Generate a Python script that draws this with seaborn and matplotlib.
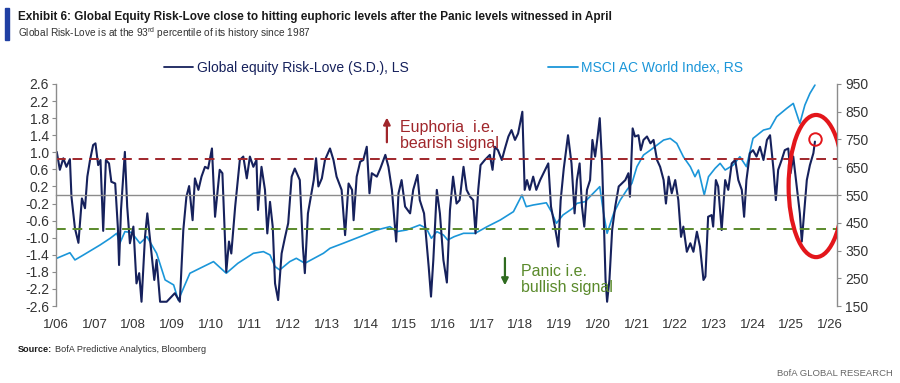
import matplotlib
matplotlib.use("Agg")
from matplotlib import pyplot as plt
from matplotlib.lines import Line2D
from matplotlib.patches import Ellipse, Rectangle

import numpy as np
import pandas as pd
import seaborn as sns

# Global equity Risk-Love (S.D.), left scale (decimal years)
rl_years = [
    2006.02, 2006.10, 2006.19, 2006.27, 2006.36, 2006.40, 2006.49, 2006.58, 2006.67, 2006.75,
    2006.81, 2006.88, 2006.96, 2007.02, 2007.09, 2007.15, 2007.22, 2007.29, 2007.37, 2007.43,
    2007.53, 2007.60, 2007.63, 2007.68, 2007.78, 2007.84, 2007.91, 2008.00, 2008.08, 2008.15,
    2008.21, 2008.30, 2008.36, 2008.45, 2008.54, 2008.60, 2008.69, 2008.86, 2009.07, 2009.20,
    2009.29, 2009.37, 2009.44, 2009.53, 2009.59, 2009.68, 2009.76, 2009.85, 2009.93, 2010.03,
    2010.11, 2010.23, 2010.30, 2010.40, 2010.47, 2010.53, 2010.63, 2010.75, 2010.84, 2010.93,
    2011.01, 2011.10, 2011.18, 2011.22, 2011.31, 2011.40, 2011.46, 2011.53, 2011.60, 2011.66,
    2011.74, 2011.83, 2011.92, 2012.00, 2012.09, 2012.17, 2012.30, 2012.38, 2012.43, 2012.51,
    2012.66, 2012.72, 2012.78, 2012.87, 2012.95, 2013.08, 2013.17, 2013.25, 2013.38, 2013.47,
    2013.56, 2013.65, 2013.69, 2013.77, 2013.86, 2013.94, 2014.03, 2014.10, 2014.16, 2014.29,
    2014.38, 2014.51, 2014.59, 2014.68, 2014.79, 2014.85, 2014.93, 2015.02, 2015.15, 2015.23,
    2015.34, 2015.40, 2015.51, 2015.63, 2015.69, 2015.75, 2015.84, 2015.92, 2016.01, 2016.10,
    2016.18, 2016.26, 2016.35, 2016.43, 2016.53, 2016.61, 2016.70, 2016.78, 2016.84, 2016.91,
    2016.97, 2017.08, 2017.21, 2017.28, 2017.34, 2017.42, 2017.52, 2017.60, 2017.69, 2017.77,
    2017.86, 2017.94, 2018.05, 2018.11, 2018.17, 2018.24, 2018.33, 2018.41, 2018.51, 2018.64,
    2018.72, 2018.79, 2018.89, 2018.98, 2019.04, 2019.12, 2019.23, 2019.32, 2019.40, 2019.46,
    2019.53, 2019.59, 2019.65, 2019.72, 2019.80, 2019.86, 2019.93, 2019.99, 2020.05, 2020.11,
    2020.15, 2020.20, 2020.24, 2020.30, 2020.37, 2020.45, 2020.54, 2020.62, 2020.71, 2020.79,
    2020.83, 2020.90, 2020.96, 2021.05, 2021.11, 2021.18, 2021.27, 2021.36, 2021.44, 2021.53,
    2021.61, 2021.70, 2021.76, 2021.83, 2021.91, 2022.00, 2022.08, 2022.15, 2022.21, 2022.30,
    2022.39, 2022.47, 2022.56, 2022.64, 2022.73, 2022.78, 2022.85, 2022.94, 2022.98, 2023.05,
    2023.11, 2023.20, 2023.29, 2023.37, 2023.46, 2023.55, 2023.63, 2023.72, 2023.78, 2023.84,
    2023.93, 2024.01, 2024.10, 2024.19, 2024.28, 2024.37, 2024.45, 2024.54, 2024.60, 2024.66,
    2024.75, 2024.83, 2024.92, 2024.98, 2025.05, 2025.14, 2025.22, 2025.27, 2025.33, 2025.40,
    2025.48, 2025.57, 2025.61,
]
rl_values = [
    1.01, 0.59, 0.86, 0.66, 0.84, -0.04, -0.78, -1.12, -0.08, -0.31,
    0.43, 0.82, 1.17, 1.21, 0.70, 0.82, -0.84, 0.82, 0.74, 0.31,
    0.27, -0.78, -1.64, -0.35, 1.01, -0.27, -1.13, -0.74, -2.07, -1.83,
    -2.50, -0.98, -0.43, -1.21, -1.99, -1.52, -2.50, -2.50, -2.30, -2.50,
    -0.82, -0.04, 0.21, -0.59, 0.39, 0.12, 0.43, 0.66, 0.62, 1.09,
    -0.51, 0.59, 0.51, -1.80, -1.09, -1.37, -0.27, 0.82, 0.90, 0.39,
    0.90, 0.66, 0.82, -0.35, 0.66, 0.12, -0.90, -0.16, -0.74, -2.07,
    -2.46, -1.37, -0.98, -0.66, 0.43, 0.62, 0.35, -1.21, -1.83, -0.43,
    0.35, 0.86, 0.20, 0.39, 0.82, 1.09, 0.82, 0.43, 0.12, -0.94,
    0.27, 0.12, -0.59, 0.43, 0.78, 0.82, 1.13, 0.04, 0.51, 0.43,
    0.62, 0.94, 0.66, 0.12, -1.09, 0.04, 0.35, -0.27, -0.43, 0.12,
    0.47, -0.12, -0.43, -1.68, -2.38, -1.52, 0.12, -0.43, -1.52, -2.05,
    -0.35, 0.43, -0.20, -0.12, 0.66, 0.12, -0.04, -0.12, -0.90, 0.12,
    0.70, 0.82, 0.94, 0.59, 1.13, 1.05, 0.82, 1.09, 1.37, 1.52,
    1.29, 1.44, 1.95, 0.12, 0.35, 0.12, 0.43, 0.12, 0.35, 0.59,
    0.74, -0.27, -0.74, -1.21, -0.12, 0.62, 1.40, 0.74, -0.43, 0.35,
    0.74, -0.27, -0.74, 0.12, 0.35, 1.29, 0.90, 1.33, 1.80, 0.74,
    -0.43, -1.99, -2.50, -1.99, -0.82, -0.27, 0.20, 0.27, 0.35, 0.51,
    -0.04, 1.56, 1.37, 1.40, 1.05, 1.29, 1.37, 1.21, 1.29, 0.82,
    0.66, 0.35, -0.20, 0.43, 0.04, 0.35, -0.12, -0.98, -0.74, -1.33,
    -1.13, -1.33, -0.86, -1.21, -1.99, -1.91, -0.51, -0.47, -0.74, 0.35,
    0.20, -0.82, 0.35, 0.12, 0.74, 0.82, 0.35, 0.12, -0.51, 0.35,
    0.98, 1.05, 0.90, 1.13, 0.82, 1.29, 1.40, 0.59, -0.12, 0.59,
    0.82, 1.05, 1.09, 0.51, 0.90, 0.20, -0.43, -1.09, -0.43, 0.35,
    0.70, 0.98, 1.25,
]

# MSCI AC World Index, right scale
msci_years = [
    2006.02, 2006.36, 2006.49, 2006.71, 2007.14, 2007.40, 2007.57, 2007.65, 2007.78, 2007.95,
    2008.17, 2008.35, 2008.60, 2008.82, 2009.04, 2009.16, 2009.46, 2009.72, 2010.07, 2010.40,
    2010.70, 2011.10, 2011.36, 2011.53, 2011.66, 2011.78, 2012.04, 2012.21, 2012.43, 2012.91,
    2013.08, 2013.42, 2013.86, 2014.29, 2014.63, 2014.80, 2015.06, 2015.40, 2015.57, 2015.70,
    2015.84, 2016.01, 2016.12, 2016.29, 2016.53, 2016.83, 2017.14, 2017.48, 2017.82, 2018.04,
    2018.15, 2018.33, 2018.67, 2018.80, 2018.93, 2019.10, 2019.35, 2019.46, 2019.67, 2019.88,
    2020.05, 2020.15, 2020.24, 2020.41, 2020.58, 2020.75, 2020.88, 2021.01, 2021.18, 2021.36,
    2021.53, 2021.70, 2021.87, 2022.04, 2022.21, 2022.39, 2022.51, 2022.60, 2022.75, 2022.86,
    2023.03, 2023.16, 2023.29, 2023.50, 2023.67, 2023.84, 2024.01, 2024.28, 2024.45, 2024.62,
    2024.88, 2025.05, 2025.22, 2025.35, 2025.48, 2025.61,
]
msci_values = [
    322, 342, 316, 334, 370, 394, 412, 376, 418, 415,
    376, 400, 340, 244, 226, 171, 268, 286, 310, 268,
    304, 340, 346, 334, 292, 280, 310, 322, 304, 340,
    358, 376, 400, 424, 436, 418, 424, 442, 430, 394,
    418, 406, 388, 400, 412, 412, 436, 460, 490, 550,
    508, 514, 522, 490, 448, 478, 502, 520, 526, 556,
    580, 484, 412, 484, 532, 568, 592, 652, 694, 712,
    730, 748, 754, 736, 688, 652, 616, 640, 550, 616,
    646, 664, 640, 658, 688, 652, 754, 784, 790, 832,
    862, 880, 808, 874, 916, 946,
]

year_ticks = list(range(2006, 2027))
year_labels = ['1/%02d' % (y % 100) for y in year_ticks]
left_ticks = np.round(np.arange(-2.6, 2.61, 0.4), 1)
right_ticks = list(range(150, 951, 100))
euphoria_level = 0.84
panic_level = -0.8

navy = '#16215c'
light_blue = '#1b96d9'
dark_red = '#a0262b'
green = '#5a8a2b'
grey = '#8c8c8c'

sns.set_style('white')
plt.rcParams['font.family'] = ['Liberation Sans', 'DejaVu Sans']

rl_df = pd.DataFrame({'year': rl_years, 'risk_love': rl_values})
msci_df = pd.DataFrame({'year': msci_years, 'msci': msci_values})

fig = plt.figure(figsize=(9, 3.83), dpi=100)
ax = fig.add_axes([0.0622, 0.201, 0.8678, 0.5797])
ax2 = ax.twinx()

sns.lineplot(data=msci_df, x='year', y='msci', ax=ax2, color=light_blue,
             linewidth=1.2, estimator=None, sort=False)
sns.lineplot(data=rl_df, x='year', y='risk_love', ax=ax, color=navy,
             linewidth=1.5, estimator=None, sort=False)

# risk-love line above the index line
ax.set_zorder(ax2.get_zorder() + 1)
ax.patch.set_visible(False)

ax.axhline(euphoria_level, color=dark_red, linestyle=(0, (5, 3.5)), linewidth=1.4)
ax.axhline(panic_level, color=green, linestyle=(0, (5, 3.5)), linewidth=1.4)

ax.set_xlim(2006.0, 2026.18)
ax.set_ylim(-2.6, 2.6)
ax2.set_ylim(150, 950)
ax.set_yticks(left_ticks)
ax.set_yticklabels(['%.1f' % v for v in left_ticks])
ax2.set_yticks(right_ticks)
ax.set_xticks(year_ticks)
ax.set_xticklabels(year_labels)
ax.set_xlabel('')
ax.set_ylabel('')
ax2.set_ylabel('')
ax.grid(False)
ax2.grid(False)

# x axis sits on the zero line, labels at the bottom
ax.spines['bottom'].set_position(('data', 0))
for a in (ax, ax2):
    a.spines['top'].set_visible(False)
    for s in a.spines.values():
        s.set_color(grey)
        s.set_linewidth(1.0)
ax.spines['right'].set_visible(False)
ax2.spines['left'].set_visible(False)
ax2.spines['bottom'].set_visible(False)
ax.tick_params(axis='x', direction='out', length=3, color=grey, pad=86,
               labelsize=9.5, labelcolor='#333333')
ax.tick_params(axis='y', direction='out', length=3, color=grey, pad=2,
               labelsize=10, labelcolor='#333333')
ax2.tick_params(axis='y', direction='out', length=3, color=grey, pad=3,
                labelsize=10, labelcolor='#333333')

# annotations
ax.annotate('', xy=(2014.55, 1.88), xytext=(2014.55, 1.17),
            arrowprops=dict(arrowstyle='-|>', color=dark_red, lw=1.6,
                            mutation_scale=10))
ax.text(2014.88, 1.40, 'Euphoria  i.e.\nbearish signal', color=dark_red,
        fontsize=11.5, va='center', ha='left', linespacing=1.05)
ax.annotate('', xy=(2017.60, -2.18), xytext=(2017.60, -1.41),
            arrowprops=dict(arrowstyle='-|>', color='#2f6b1f', lw=1.6,
                            mutation_scale=10))
ax.text(2018.02, -1.98, 'Panic i.e.\nbullish signal', color=green,
        fontsize=11.5, va='center', ha='left', linespacing=1.05)

ax.add_patch(Ellipse((2025.64, 0.21), 1.42, 3.33, fill=False,
                     edgecolor='#e3161b', linewidth=3, zorder=5))
ax.plot(rl_years[-1], rl_values[-1] + 0.07, marker='o', markersize=9,
        markerfacecolor='none', markeredgecolor='#e3161b',
        markeredgewidth=1.4, zorder=6)

# legends
fig.legend(handles=[Line2D([], [], color=navy, linewidth=1.3)],
           labels=['Global equity Risk-Love (S.D.), LS'],
           loc='center left', bbox_to_anchor=(0.174, 1 - 68 / 383),
           frameon=False, fontsize=10, handlelength=2.15,
           handletextpad=0.25, labelcolor=navy, borderpad=0)
fig.legend(handles=[Line2D([], [], color=light_blue, linewidth=1.3)],
           labels=['MSCI AC World Index, RS'],
           loc='center left', bbox_to_anchor=(0.601, 1 - 68 / 383),
           frameon=False, fontsize=10, handlelength=2.15,
           handletextpad=0.25, labelcolor=light_blue, borderpad=0)

# titles and footer
fig.patches.append(Rectangle((5 / 900, 1 - 40 / 383), 4 / 900, 32 / 383,
                             transform=fig.transFigure, color='#1f3fa3'))
fig.text(18 / 900, 1 - 17 / 383,
         'Exhibit 6: Global Equity Risk-Love close to hitting euphoric levels '
         'after the Panic levels witnessed in April',
         fontsize=8.5, fontweight='bold', color='#1a1a1a', va='center')
fig.text(18 / 900, 1 - 33 / 383,
         r'Global Risk-Love is at the 93$^{\mathregular{rd}}$ percentile of its history since 1987',
         fontsize=7.3, color='#333333', va='center')

src = fig.text(18 / 900, 1 - 350 / 383, 'Source:', fontsize=6.6, fontweight='bold',
               color='#1a1a1a', va='center')
fig.canvas.draw()
src_right = src.get_window_extent().x1 / fig.bbox.width
fig.text(src_right + 3 / 900, 1 - 350 / 383, 'BofA Predictive Analytics, Bloomberg',
         fontsize=6.6, color='#333333', va='center')
fig.text(893 / 900, 1 - 374 / 383, 'BofA GLOBAL RESEARCH', fontsize=6.8,
         color='#666666', va='center', ha='right')

fig.savefig('out.png', dpi=100)
